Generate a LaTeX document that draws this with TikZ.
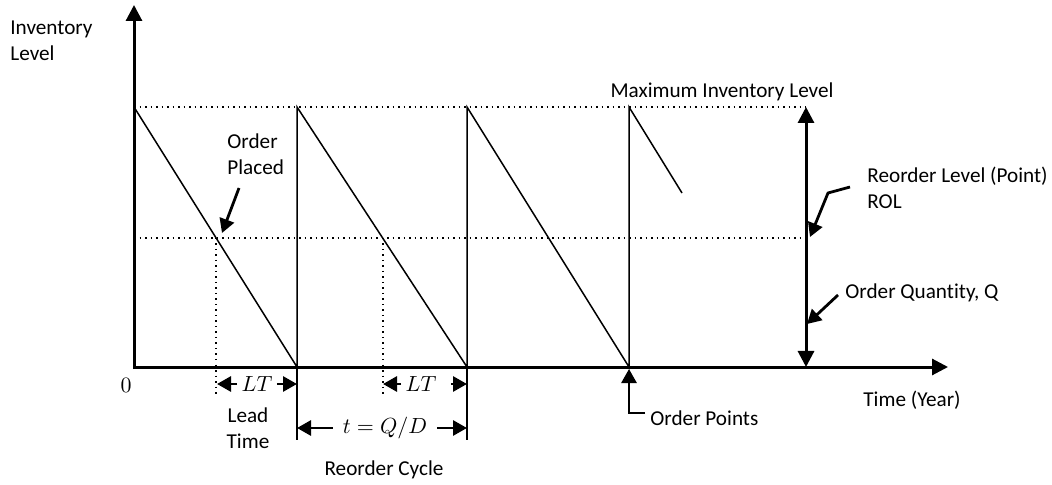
\documentclass[tikz,border=0pt]{standalone}
\usepackage{fontspec}
\setmainfont{Carlito}[Ligatures=NoCommon]
\usetikzlibrary{arrows.meta}
\begin{document}
\begin{tikzpicture}[x=0.5pt,y=-0.5pt,
 axis/.style={line width=1.5pt,-{Triangle[length=8pt,width=8pt]}},
 dbl/.style={line width=1.5pt,{Triangle[length=8pt,width=8pt]}-{Triangle[length=8pt,width=8pt]}},
 saw/.style={line width=0.75pt},
 dots/.style={dotted, line width=0.75pt},
 ptr/.style={line width=1.4pt,-{Triangle[length=7pt,width=7.5pt]}},
 lbl/.style={font=\fontsize{10.6}{13}\selectfont, inner sep=0pt},
 mlbl/.style={font=\fontsize{10.6}{13}\selectfont, inner sep=2pt},
]
\useasboundingbox (0,0) rectangle (1052,485);
% key points
\coordinate (O) at (134,367);
\coordinate (Ytip) at (134,5);
\coordinate (Xtip) at (948,367);
\coordinate (T0) at (134,107);
\coordinate (Z1) at (297,367); \coordinate (T1) at (297,107);
\coordinate (Z2) at (467,367); \coordinate (T2) at (467,107);
\coordinate (Z3) at (629,367); \coordinate (T3) at (629,107);
\coordinate (E) at (682,193);
\coordinate (Mx) at (806,107); \coordinate (Mn) at (806,367);
\coordinate (R0) at (134,238); \coordinate (R1) at (806,238);
\coordinate (P1) at (216,238); \coordinate (P2) at (383,238);
\coordinate (P1b) at (216,395); \coordinate (P2b) at (383,395);
\coordinate (Z1b) at (297,440); \coordinate (Z2b) at (467,440);
% dotted guides
\draw[dots] (T0) -- (Mx);
\draw[dots] (R0) -- (R1);
\draw[dots] (P1) -- (P1b);
\draw[dots] (P2) -- (P2b);
% sawtooth
\draw[saw] (T0) -- (Z1) -- (T1) -- (Z2) -- (T2) -- (Z3) -- (T3) -- (E);
\draw[saw] (Z1) -- (Z1b);
\draw[saw] (Z2) -- (Z2b);
% axes
\draw[axis] ([yshift=-1pt]O) -- (Ytip);
\draw[axis] (O) -- (Xtip);
\draw[dbl] (Mn) -- (Mx);
% texts
\node[lbl, anchor=north west, align=left] (yl) at (10,21) {Inventory\\Level};
\node[lbl] (zero) at (126,385) {$0$};
\node[lbl, anchor=north west, align=left] (op) at (227,133) {Order\\Placed};
\node[lbl] (max) at (722,92) {Maximum Inventory Level};
\node[lbl, anchor=north west, align=left] (rol) at (867,167) {Reorder Level (Point)\\ROL};
\node[lbl, anchor=west] (oq) at (845,293) {Order Quantity, Q};
\node[lbl] (time) at (912,400) {Time (Year)};
\node[lbl, anchor=west] (opts) at (650,418) {Order Points};
\node[lbl, align=center] (lead) at (248,428) {Lead\\Time};
\node[lbl] (cyc) at (384,470) {Reorder Cycle};
% LT and cycle dimension arrows
\node[mlbl] (lt1) at (257,384) {$LT$};
\node[mlbl] (lt2) at (421,384) {$LT$};
\node[mlbl, inner sep=5pt] (tq) at (385,428) {$t = Q/D$};
\coordinate (L1a) at (217,384); \coordinate (L1b) at (297,384);
\coordinate (L2a) at (383,384); \coordinate (L2b) at (467,384);
\coordinate (C1a) at (297,428); \coordinate (C1b) at (467,428);
\draw[ptr] (lt1.west) -- (L1a);
\draw[ptr] (lt1.east) -- (L1b);
\draw[ptr] (lt2.west) -- (L2a);
\draw[ptr] ([xshift=5pt]lt2.east) -- (L2b);
\draw[ptr] (tq.west) -- (C1a);
\draw[ptr] (tq.east) -- (C1b);
% callout arrows
\coordinate (opA) at (239,188); \coordinate (opB) at (222,233);
\draw[ptr] (opA) -- (opB);
\coordinate (rA) at (850,187); \coordinate (rB) at (828,193); \coordinate (rC) at (810,237);
\draw[ptr] (rA) -- (rB) -- (rC);
\coordinate (qA) at (838,295); \coordinate (qB) at (807,324);
\draw[ptr] (qA) -- (qB);
\coordinate (oA) at (645,413); \coordinate (oB) at (629,413); \coordinate (oC) at (629,369);
\draw[ptr] (oA) -- (oB) -- (oC);
\end{tikzpicture}
\end{document}
